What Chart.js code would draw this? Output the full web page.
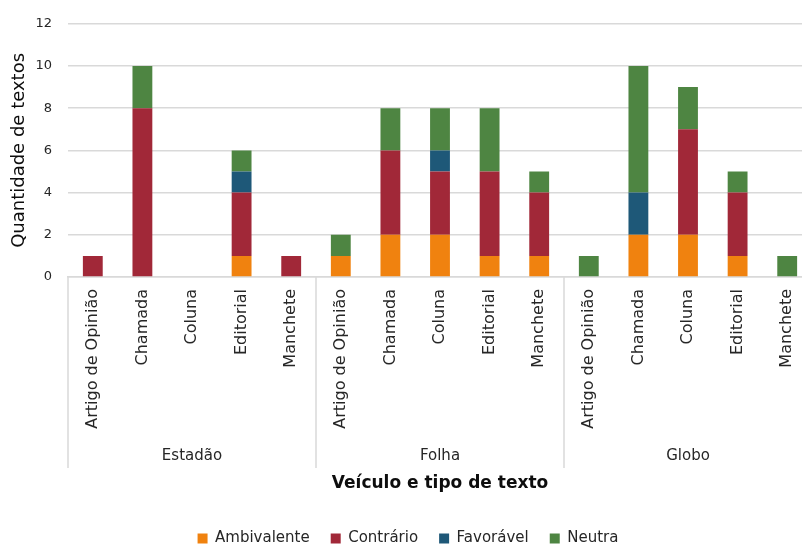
<!DOCTYPE html>
<html>
<head>
<meta charset="utf-8">
<script src="https://cdn.jsdelivr.net/npm/chart.js@4/dist/chart.umd.min.js"></script>
<style>
  html, body { margin: 0; padding: 0; background: #fff; overflow: hidden; }
  #wrap { width: 812px; height: 548px; }
</style>
</head>
<body>
<div id="wrap"><canvas id="myChart"></canvas></div>
<script>
(() => {
  'use strict'

  const groups = ['Estadão', 'Folha', 'Globo']
  const types = ['Artigo de Opinião', 'Chamada', 'Coluna', 'Editorial', 'Manchete']
  const ambivalente = [0, 0, 0, 1, 0, 1, 2, 2, 1, 1, 0, 2, 2, 1, 0]
  const contrario = [1, 8, 0, 3, 1, 0, 4, 3, 4, 3, 0, 0, 5, 3, 0]
  const favoravel = [0, 0, 0, 1, 0, 0, 0, 1, 0, 0, 0, 2, 0, 0, 0]
  const neutra = [0, 2, 0, 1, 0, 1, 2, 2, 3, 1, 1, 6, 2, 1, 1]
  const xTitle = 'Veículo e tipo de texto'

  const labels = []
  groups.forEach(() => types.forEach(t => labels.push(t)))

  const font = 'DejaVu Sans'
  const grid = '#d9d9d9'

  // group labels, separators and axis title under the category ticks
  const groupAxis = {
    id: 'groupAxis',
    afterDraw (chart) {
      const x = chart.scales.x
      const c = chart.ctx
      const top = chart.chartArea.bottom
      const half = (x.getPixelForValue(1) - x.getPixelForValue(0)) / 2
      c.save()
      c.strokeStyle = grid
      c.lineWidth = 1.5
      for (let g = 0; g <= groups.length; g++) {
        const px = Math.round(x.getPixelForValue(g * types.length) - half)
        c.beginPath()
        c.moveTo(px, top)
        c.lineTo(px, top + 191)
        c.stroke()
      }
      c.fillStyle = '#262626'
      c.font = '15px "' + font + '"'
      c.textAlign = 'center'
      c.textBaseline = 'middle'
      groups.forEach((g, i) => {
        c.fillText(g, x.getPixelForValue(i * types.length + 2), top + 179)
      })
      c.fillStyle = '#0d0d0d'
      c.font = 'bold 17px "' + font + '"'
      c.fillText(xTitle, 440, top + 207)
      c.restore()
    }
  }

  const ctx = document.getElementById('myChart')
  // eslint-disable-next-line no-unused-vars
  const myChart = new Chart(ctx, {
    type: 'bar',
    data: {
      labels,
      datasets: [
        { label: 'Ambivalente', data: ambivalente, backgroundColor: '#f0820f' },
        { label: 'Contrário', data: contrario, backgroundColor: '#a12838' },
        { label: 'Favorável', data: favoravel, backgroundColor: '#1e5878' },
        { label: 'Neutra', data: neutra, backgroundColor: '#4e8542' }
      ]
    },
    plugins: [groupAxis],
    options: {
      responsive: true,
      maintainAspectRatio: false,
      animation: false,
      datasets: { bar: { categoryPercentage: 1, barPercentage: 0.4, borderWidth: 0 } },
      layout: { padding: { top: 7, left: 4, right: 0, bottom: -8 } },
      scales: {
        x: {
          stacked: true,
          grid: { display: false, drawTicks: false },
          border: { color: grid, width: 1.5 },
          ticks: {
            autoSkip: false,
            minRotation: 90,
            maxRotation: 90,
            padding: 12,
            color: '#262626',
            font: { family: font, size: 16 }
          },
          afterFit (scale) {
            scale.height = 233
            scale.paddingLeft = 0
            scale.paddingRight = 0
          }
        },
        y: {
          stacked: true,
          min: 0,
          max: 12,
          ticks: {
            stepSize: 2,
            padding: 16,
            color: '#262626',
            font: { family: font, size: 13 }
          },
          grid: { color: grid, lineWidth: 1.5, drawTicks: false },
          border: { display: false },
          title: {
            display: true,
            text: 'Quantidade de textos',
            color: '#0d0d0d',
            font: { family: font, size: 18 },
            padding: { top: 5, bottom: 4 }
          },
          afterFit (scale) { scale.width = 64 }
        }
      },
      plugins: {
        legend: {
          position: 'bottom',
          labels: {
            boxWidth: 10,
            boxHeight: 10,
            padding: 21,
            color: '#262626',
            font: { family: font, size: 15 }
          }
        },
        tooltip: { enabled: false }
      }
    }
  })
})()
</script>
</body>
</html>
